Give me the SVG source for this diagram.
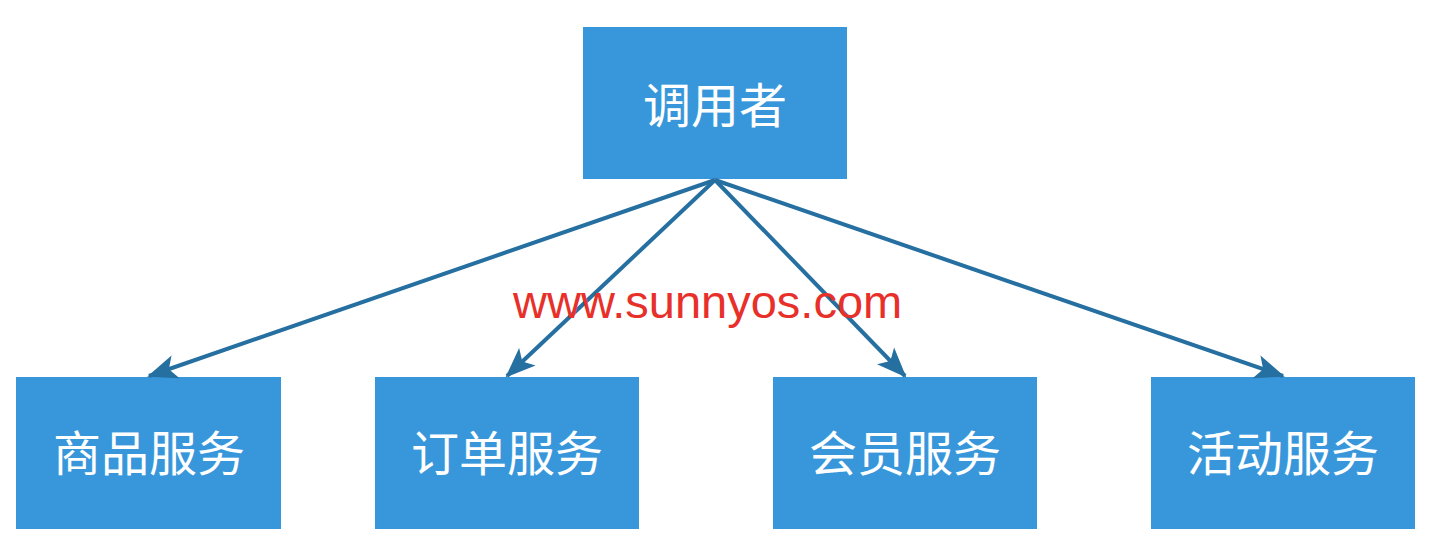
<svg xmlns="http://www.w3.org/2000/svg" width="1434" height="560" viewBox="0 0 1434 560">
<style>
.box{fill:#3897db;}
.lbl{fill:#ffffff;font-family:"Noto Sans CJK SC","Noto Sans",sans-serif;font-size:48px;text-anchor:middle;dominant-baseline:central;}
.edge{stroke:#266fa1;stroke-width:4;fill:none;marker-end:url(#ah);}
.wm{fill:#e8302a;font-family:"Liberation Sans",Arial,sans-serif;font-size:47px;}
</style>
<defs>
<marker id="ah" markerUnits="userSpaceOnUse" markerWidth="32" markerHeight="26" refX="28" refY="12" orient="auto" viewBox="0 0 32 24">
<path d="M0,0 L30,12 L0,24 L7,12 Z" fill="#266fa1"/>
</marker>
</defs>
<rect width="1434" height="560" fill="#ffffff"/>
<g id="caller"><rect class="box" x="583" y="27" width="264" height="152"/><text class="lbl" x="715" y="102">调用者</text></g>
<g id="goods"><rect class="box" x="16" y="377" width="265" height="152"/><text class="lbl" x="149" y="450">商品服务</text></g>
<g id="order"><rect class="box" x="375" y="377" width="264" height="152"/><text class="lbl" x="507" y="450">订单服务</text></g>
<g id="member"><rect class="box" x="773" y="377" width="264" height="152"/><text class="lbl" x="905" y="450">会员服务</text></g>
<g id="activity"><rect class="box" x="1151" y="377" width="264" height="152"/><text class="lbl" x="1283" y="450">活动服务</text></g>
<g id="edges">
<line class="edge" x1="715" y1="180" x2="149" y2="376"/>
<line class="edge" x1="715" y1="180" x2="507" y2="376"/>
<line class="edge" x1="715" y1="180" x2="905" y2="376"/>
<line class="edge" x1="715" y1="180" x2="1283" y2="376"/>
</g>
<text class="wm" x="513" y="318">www.sunnyos.com</text>
</svg>
